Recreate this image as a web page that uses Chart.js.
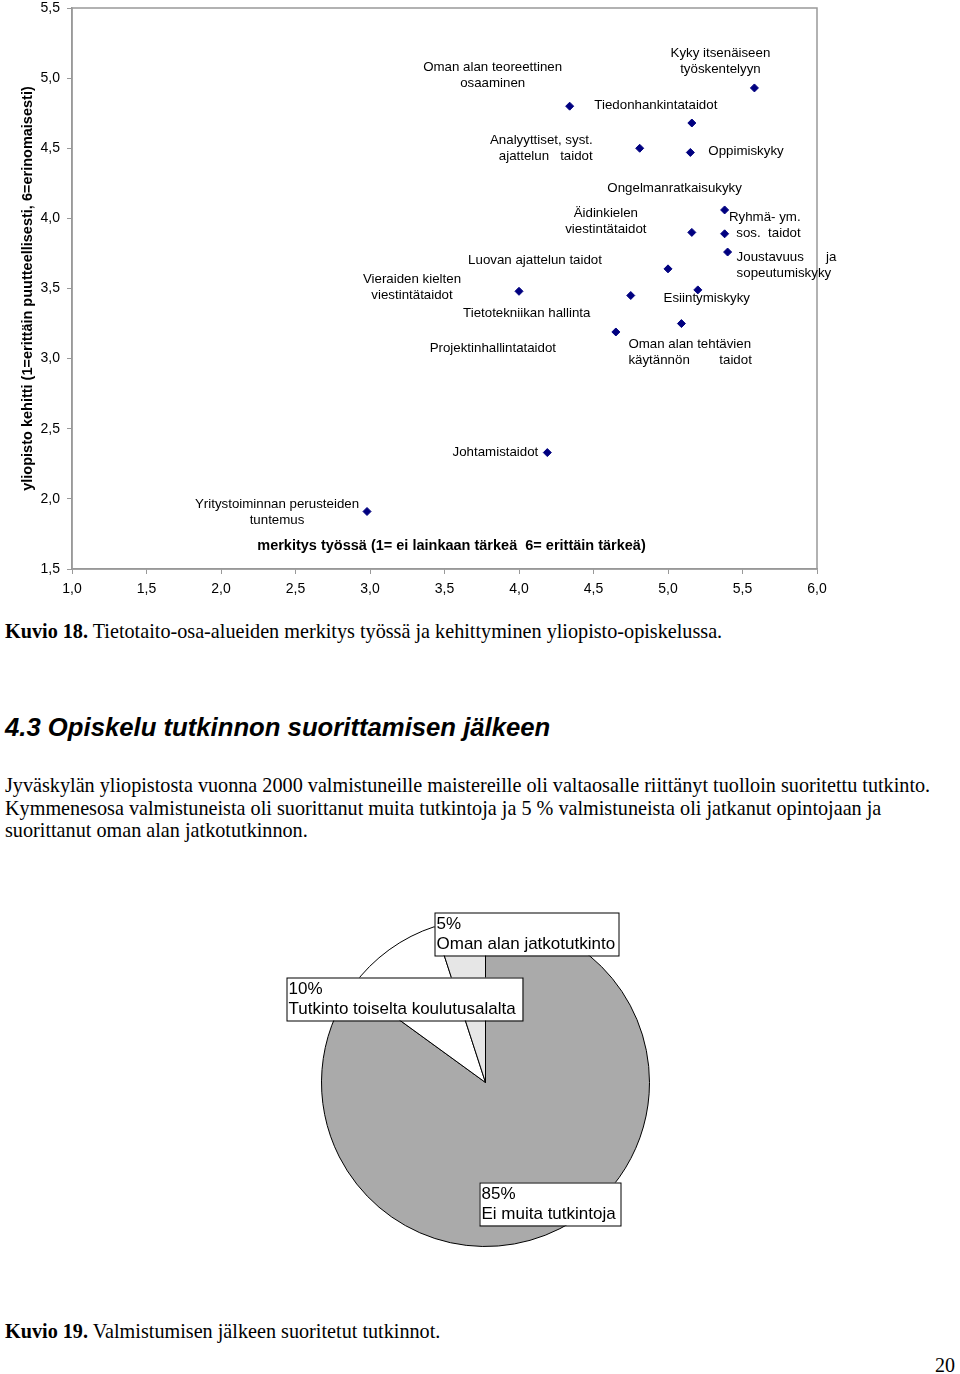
<!DOCTYPE html>
<html>
<head>
<meta charset="utf-8">
<script src="https://cdn.jsdelivr.net/npm/chart.js@4.4.1/dist/chart.umd.min.js"></script>
<style>
  body { margin: 0; background: #fff; }
  #page { position: relative; width: 960px; height: 1374px; overflow: hidden; }
  .abs { position: absolute; }
  .serif { font-family: "Liberation Serif", "Times New Roman", serif; font-size: 20.2px; color: #000; white-space: nowrap; }
  h2 { margin: 0; font-family: "Liberation Sans", Arial, sans-serif; font-weight: bold; font-style: italic; font-size: 25.7px; white-space: nowrap; }
</style>
</head>
<body>
<div id="page">
  <canvas id="scatter" class="abs" style="left:0;top:0" width="840" height="610"></canvas>

  <div class="abs serif" style="left:5px;top:620px;line-height:22px"><b>Kuvio 18.</b> Tietotaito-osa-alueiden merkitys työssä ja kehittyminen yliopisto-opiskelussa.</div>

  <h2 class="abs" style="left:5px;top:711px;line-height:32px">4.3 Opiskelu tutkinnon suorittamisen jälkeen</h2>

  <div class="abs serif" style="left:5px;top:774px;line-height:22.5px">Jyväskylän yliopistosta vuonna 2000 valmistuneille maistereille oli valtaosalle riittänyt tuolloin suoritettu tutkinto.<br>Kymmenesosa valmistuneista oli suorittanut muita tutkintoja ja 5 % valmistuneista oli jatkanut opintojaan ja<br>suorittanut oman alan jatkotutkinnon.</div>

  <canvas id="pie" class="abs" style="left:280px;top:905px" width="380" height="360"></canvas>

  <div class="abs serif" style="left:5px;top:1320px;line-height:22px"><b>Kuvio 19.</b> Valmistumisen jälkeen suoritetut tutkinnot.</div>
  <div class="abs serif" style="left:935px;top:1353px;line-height:24px;font-size:20px">20</div>
</div>

<script>
// --- Kuvio 18: merkitys työssä (x) vs. yliopisto kehitti (y)
const skillNames = [
    'Yritystoiminnan perusteiden\ntuntemus',
    'Johtamistaidot',
    'Projektinhallintataidot',
    'Tietotekniikan hallinta',
    'Esiintymiskyky',
    'Oman alan tehtävien\nkäytännön        taidot',
    'Vieraiden kielten\nviestintätaidot',
    'Luovan ajattelun taidot',
    'Äidinkielen\nviestintätaidot',
    'Ryhmä- ym.\nsos.  taidot',
    'Ongelmanratkaisukyky',
    'Joustavuus      ja\nsopeutumiskyky',
    'Oppimiskyky',
    'Tiedonhankintataidot',
    'Analyyttiset, syst.\najattelun   taidot',
    'Oman alan teoreettinen\nosaaminen',
    'Kyky itsenäiseen\ntyöskentelyyn'
];
const importanceAtWork = [2.98, 4.19, 4.65, 4.75, 5.20, 5.09, 4.00, 5.00, 5.16, 5.38, 5.38, 5.40, 5.15, 5.16, 4.81, 4.34, 5.58];
const developedAtUniversity = [1.91, 2.33, 3.19, 3.45, 3.49, 3.25, 3.48, 3.64, 3.90, 3.89, 4.06, 3.76, 4.47, 4.68, 4.50, 4.80, 4.93];

// label placement relative to each point (px) and text alignment
const labelOffsets = [
    [-90, -7, 'center'], [-9, 0, 'right'], [-123, 16, 'center'], [-104, 18, 'center'],
    [9, 8, 'center'], [-53, 21, 'left'], [-107, -12, 'center'], [-133, -9, 'center'],
    [-86, -19, 'center'], [76, -16, 'right'], [-50, -22, 'center'], [9, 5, 'left'],
    [18, -1, 'left'], [-36, -18, 'center'], [-47, -8, 'right'], [-77, -39, 'center'],
    [-34, -35, 'center']
];

const xAxisTitle = 'merkitys työssä (1= ei lainkaan tärkeä  6= erittäin tärkeä)';
const yAxisTitle = 'yliopisto kehitti (1=erittäin puutteellisesti, 6=erinomaisesti)';

const AXIS_GREY = '#999999';
const fmt = v => Number(v).toFixed(1).replace('.', ',');

const scatterExtras = {
    id: 'scatterExtras',
    afterDatasetsDraw(chart) {
        const { ctx, chartArea } = chart;
        ctx.save();
        // frame around the plot
        ctx.strokeStyle = AXIS_GREY;
        ctx.lineWidth = 1.5;
        ctx.strokeRect(chartArea.left, chartArea.top, chartArea.right - chartArea.left, chartArea.bottom - chartArea.top);

        // point labels
        ctx.fillStyle = '#000';
        ctx.font = '13.3px "Liberation Sans", Arial, sans-serif';
        ctx.textBaseline = 'middle';
        const pts = chart.getDatasetMeta(0).data;
        pts.forEach((p, i) => {
            const [dx, dy, align] = labelOffsets[i];
            ctx.textAlign = align;
            skillNames[i].split('\n').forEach((line, j) => {
                ctx.fillText(line, p.x + dx, p.y + dy + j * 16);
            });
        });

        // x axis title sits inside the plot area
        ctx.font = 'bold 14.5px "Liberation Sans", Arial, sans-serif';
        ctx.textAlign = 'center';
        ctx.fillText(xAxisTitle, (chartArea.left + chartArea.right) / 2 + 7, chartArea.bottom - 23);
        ctx.restore();
    }
};

new Chart(document.getElementById('scatter'), {
    type: 'scatter',
    data: {
        datasets: [{
            data: importanceAtWork.map((x, i) => ({ x, y: developedAtUniversity[i] })),
            pointStyle: 'rectRot',
            pointRadius: 4,
            pointBorderWidth: 1,
            backgroundColor: '#000080',
            borderColor: '#000080'
        }]
    },
    options: {
        responsive: false,
        animation: false,
        layout: { padding: { top: 8, right: 23, left: 0, bottom: 0 } },
        plugins: { legend: { display: false }, tooltip: { enabled: false } },
        scales: {
            x: {
                type: 'linear', min: 1, max: 6,
                ticks: { stepSize: 0.5, callback: fmt, color: '#000', padding: 7, maxRotation: 0,
                    font: { family: '"Liberation Sans", Arial, sans-serif', size: 14 } },
                grid: { drawOnChartArea: false, color: AXIS_GREY, tickLength: 5 },
                border: { color: AXIS_GREY, width: 1.5 },
                afterFit: s => { s.height = 41; s.paddingLeft = 0; s.paddingRight = 0; }
            },
            y: {
                type: 'linear', min: 1.5, max: 5.5,
                ticks: { stepSize: 0.5, callback: fmt, color: '#000', padding: 7,
                    font: { family: '"Liberation Sans", Arial, sans-serif', size: 14 } },
                grid: { drawOnChartArea: false, color: AXIS_GREY, tickLength: 5 },
                border: { color: AXIS_GREY, width: 1.5 },
                title: { display: true, text: yAxisTitle, color: '#000', padding: { top: 19, bottom: 0 },
                    font: { family: '"Liberation Sans", Arial, sans-serif', size: 14.5, weight: 'bold' } },
                afterFit: s => { s.width = 72; s.paddingTop = 0; s.paddingBottom = 0; }
            }
        }
    },
    plugins: [scatterExtras]
});

// --- Kuvio 19: valmistumisen jälkeen suoritetut tutkinnot
const degreeCategories = ['Ei muita tutkintoja', 'Tutkinto toiselta koulutusalalta', 'Oman alan jatkotutkinto'];
const degreeShares = [85, 10, 5];
const sliceColors = ['#aaaaaa', '#ffffff', '#e6e6e6'];

// label boxes relative to pie centre (px): left, top, width
const boxOffsets = [[-6, 100, 141], [-199, -105, 236], [-51, -170, 184]];

const pieLabels = {
    id: 'pieLabels',
    afterDatasetsDraw(chart) {
        const { ctx } = chart;
        const arc = chart.getDatasetMeta(0).data[0];
        const cx = arc.x, cy = arc.y;
        ctx.save();
        ctx.font = '17px "Liberation Sans", Arial, sans-serif';
        ctx.textBaseline = 'middle';
        ctx.textAlign = 'left';
        degreeCategories.forEach((cat, i) => {
            const [bx, by, bw] = boxOffsets[i];
            const x = cx + bx, y = cy + by;
            ctx.fillStyle = '#fff';
            ctx.fillRect(x, y, bw, 43);
            ctx.strokeStyle = '#000';
            ctx.lineWidth = 1;
            ctx.strokeRect(x + 0.5, y + 0.5, bw, 43);
            ctx.fillStyle = '#000';
            ctx.fillText(degreeShares[i] + '%', x + 2, y + 12);
            ctx.fillText(cat, x + 2, y + 32);
        });
        ctx.restore();
    }
};

new Chart(document.getElementById('pie'), {
    type: 'pie',
    data: {
        labels: degreeCategories,
        datasets: [{
            data: degreeShares,
            backgroundColor: sliceColors,
            borderColor: '#000',
            borderWidth: 1
        }]
    },
    options: {
        responsive: false,
        animation: false,
        layout: { padding: { left: 41, right: 10, top: 13, bottom: 18 } },
        plugins: { legend: { display: false }, tooltip: { enabled: false } }
    },
    plugins: [pieLabels]
});
</script>
</body>
</html>
